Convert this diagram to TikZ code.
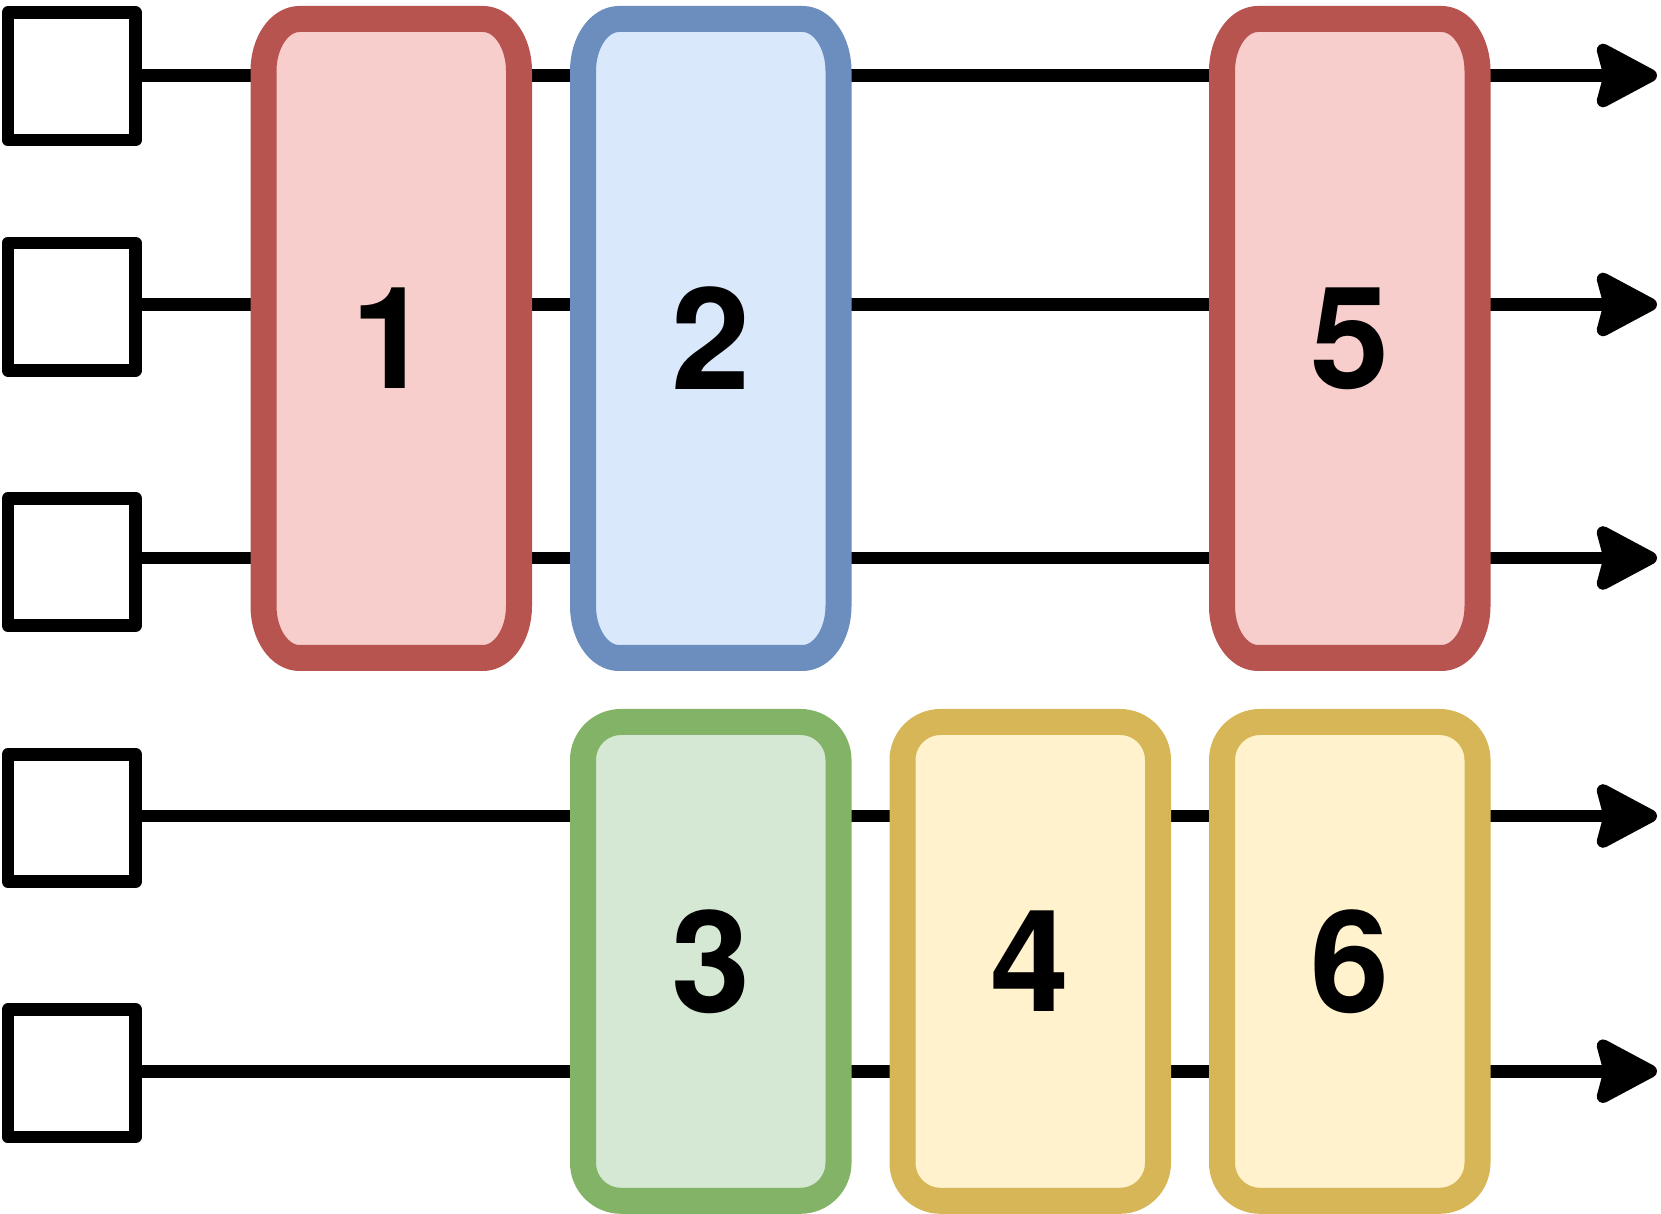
\documentclass[tikz,border=0pt]{standalone}
\usepackage{fontspec}
\setsansfont{TeX Gyre Heros}
\usetikzlibrary{arrows.meta}
\definecolor{redS}{HTML}{B85450}
\definecolor{redF}{HTML}{F8CECC}
\definecolor{blueS}{HTML}{6C8EBF}
\definecolor{blueF}{HTML}{DAE8FC}
\definecolor{greenS}{HTML}{82B366}
\definecolor{greenF}{HTML}{D5E8D4}
\definecolor{yelS}{HTML}{D6B656}
\definecolor{yelF}{HTML}{FFF2CC}
\pgfdeclarelayer{bg}
\pgfdeclarelayer{mid}
\pgfsetlayers{bg,mid,main}
\newcommand\ellbox[3]{%
  \begin{pgfonlayer}{mid}
  \path[draw=#3, fill=#2, line width=26pt, line join=round]
    ([xshift=36pt]#1.north west) -- ([xshift=-36pt]#1.north east)
    arc[start angle=90, end angle=0, x radius=36pt, y radius=52pt]
    -- ([yshift=52pt]#1.south east)
    arc[start angle=0, end angle=-90, x radius=36pt, y radius=52pt]
    -- ([xshift=36pt]#1.south west)
    arc[start angle=270, end angle=180, x radius=36pt, y radius=52pt]
    -- ([yshift=-52pt]#1.north west)
    arc[start angle=180, end angle=90, x radius=36pt, y radius=52pt]
    -- cycle;
  \end{pgfonlayer}}
\begin{document}
\begin{tikzpicture}[x=1pt,y=1pt,
  sqbox/.style={draw, fill=white, line width=12.7pt, line join=round,
    minimum width=127.5pt, minimum height=127.5pt, inner sep=0pt, outer sep=0pt},
  digit/.style={font=\sffamily\bfseries\fontsize{142}{142}\selectfont},
  topbox/.style={digit, minimum width=255.5pt, minimum height=639pt,
    inner sep=0pt, outer sep=0pt},
  botbox/.style={digit, draw, line width=26pt, rounded corners=38pt,
    minimum width=255.5pt, minimum height=478.8pt, inner sep=0pt, outer sep=0pt},
  conn/.style={line width=12.7pt, -{Stealth[length=70pt,width=73pt,inset=9pt,round]}}]
\useasboundingbox (0,0) rectangle (1661,1214);
% input squares
\node[sqbox] (s1) at (71.75,1137.6) {};
\node[sqbox] (s2) at (71.75,907.3) {};
\node[sqbox] (s3) at (71.75,652) {};
\node[sqbox] (s4) at (71.75,396) {};
\node[sqbox] (s5) at (71.75,140.7) {};
% line ends
\coordinate (e1) at (1657,1138.5);
\coordinate (e2) at (1657,909.5);
\coordinate (e3) at (1657,656);
\coordinate (e4) at (1657,398);
\coordinate (e5) at (1657,142.8);
\begin{pgfonlayer}{bg}
\draw[conn] (s1.east |- e1) -- (e1);
\draw[conn] (s2.east |- e2) -- (e2);
\draw[conn] (s3.east |- e3) -- (e3);
\draw[conn] (s4.east |- e4) -- (e4);
\draw[conn] (s5.east |- e5) -- (e5);
\end{pgfonlayer}
% top row boxes
\node[topbox] (b1) at (391.25,875.5) {1};
\node[topbox] (b2) at (710.75,875.5) {2};
\node[topbox] (b5) at (1349.75,875.5) {5};
\ellbox{b1}{redF}{redS}
\ellbox{b2}{blueF}{blueS}
\ellbox{b5}{redF}{redS}
% bottom row boxes
\node[botbox, draw=greenS, fill=greenF] (b3) at (710.75,252.6) {3};
\node[botbox, draw=yelS, fill=yelF] (b4) at (1030.25,252.6) {4};
\node[botbox, draw=yelS, fill=yelF] (b6) at (1349.75,252.6) {6};
\end{tikzpicture}
\end{document}
